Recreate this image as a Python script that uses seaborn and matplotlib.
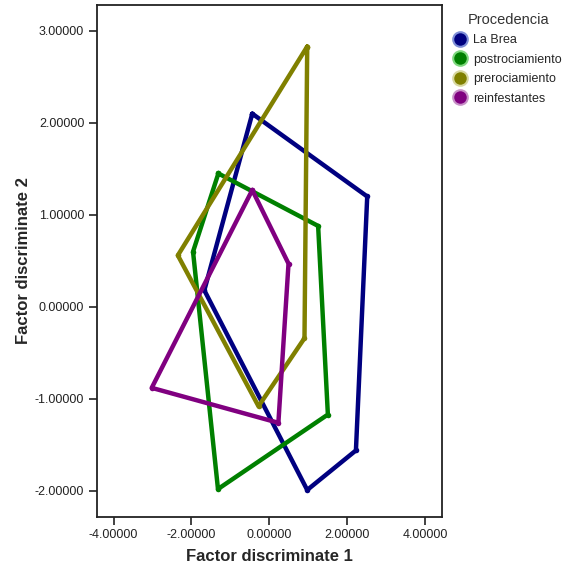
import matplotlib
matplotlib.use("Agg")
import matplotlib.pyplot as plt
from matplotlib.lines import Line2D
from matplotlib.ticker import FormatStrFormatter
import pandas as pd
import seaborn as sns

# Convex hull vertices of each group in the discriminant space (closed polygons)
groups = ["La Brea", "postrociamiento", "prerociamiento", "reinfestantes"]
la_brea_x = [-0.44, 2.51, 2.22, 0.97, -1.67, -0.44]
la_brea_y = [2.10, 1.20, -1.56, -1.99, 0.18, 2.10]
post_x = [-1.31, 1.25, 1.50, -1.32, -1.96, -1.31]
post_y = [1.45, 0.88, -1.17, -1.98, 0.60, 1.45]
pre_x = [0.97, 0.90, -0.28, -2.35, 0.97]
pre_y = [2.83, -0.34, -1.08, 0.56, 2.83]
reinf_x = [-0.44, 0.49, 0.23, -3.02, -0.44]
reinf_y = [1.27, 0.47, -1.26, -0.88, 1.27]

x_ticks = [-4, -2, 0, 2, 4]
y_ticks = [-2, -1, 0, 1, 2, 3]

colors = ["#000080", "#008000", "#808000", "#800080"]
edge_colors = ["#7f8fd8", "#7fd87f", "#d8d8a0", "#c890c8"]

frames = []
for name, xs, ys in zip(groups,
                        [la_brea_x, post_x, pre_x, reinf_x],
                        [la_brea_y, post_y, pre_y, reinf_y]):
    frames.append(pd.DataFrame({"f1": xs, "f2": ys, "Procedencia": name}))
df = pd.concat(frames, ignore_index=True)

sns.set_style("ticks")
plt.rcParams["font.family"] = ["Liberation Sans", "DejaVu Sans"]

fig = plt.figure(figsize=(5.66, 5.69), dpi=100)
ax = fig.add_axes([0.171, 0.092, 0.610, 0.899])

sns.lineplot(data=df, x="f1", y="f2", hue="Procedencia", hue_order=groups,
             palette=colors, sort=False, estimator=None, linewidth=3.2,
             marker="o", markersize=4, markeredgewidth=0,
             legend=False, ax=ax)

ax.set_xlim(-4.43, 4.43)
ax.set_ylim(-2.28, 3.28)
ax.set_xticks(x_ticks)
ax.set_yticks(y_ticks)
ax.xaxis.set_major_formatter(FormatStrFormatter("%.5f"))
ax.yaxis.set_major_formatter(FormatStrFormatter("%.5f"))
ax.tick_params(axis="both", labelsize=9, length=6, width=1.2,
               color="#222222", labelcolor="#222222", pad=3)
for s in ax.spines.values():
    s.set_visible(True)
    s.set_color("#222222")
    s.set_linewidth(1.3)

ax.set_xlabel("Factor discriminate 1", fontsize=12, fontweight="bold", labelpad=6)
ax.set_ylabel("Factor discriminate 2", fontsize=12, fontweight="bold", labelpad=3)

handles = [Line2D([], [], linestyle="none", marker="o", markersize=10.5,
                  markerfacecolor=c, markeredgecolor=e, markeredgewidth=1.5)
           for c, e in zip(colors, edge_colors)]
leg = fig.legend(handles, groups, title="Procedencia", loc="upper left",
                 bbox_to_anchor=(0.788, 0.993), frameon=False, fontsize=9,
                 title_fontsize=10.5, handlelength=0.9, handletextpad=0.55,
                 labelspacing=0.6, borderpad=0.2)
leg.get_title().set_color("#333333")

fig.savefig("out.png", dpi=100)
